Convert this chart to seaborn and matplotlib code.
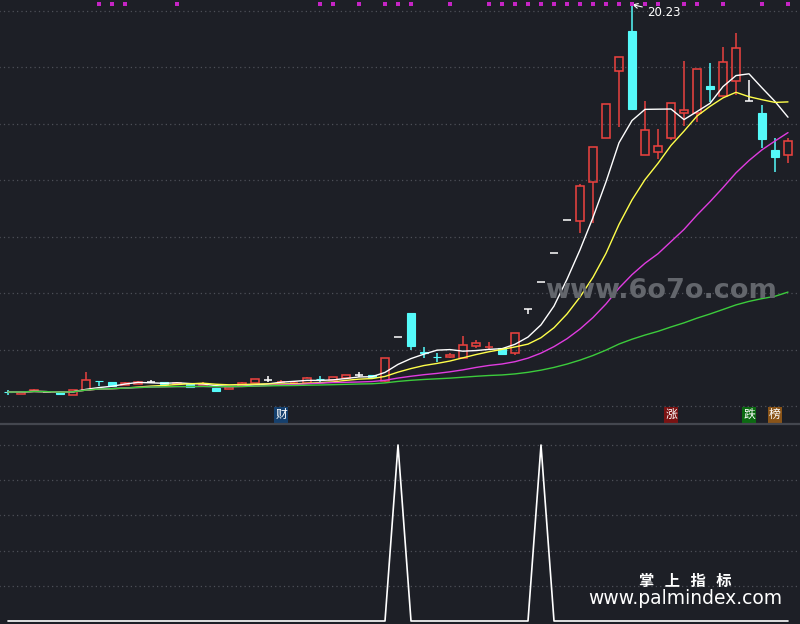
import numpy as np
import pandas as pd
import matplotlib
matplotlib.use("Agg")
import matplotlib.pyplot as plt
import seaborn as sns

# ---------------- data ----------------
opens = [6.52, 6.44, 6.55, 6.50, 6.50, 6.41, 6.58, 6.90, 6.87, 6.77,
         6.80, 6.87, 6.87, 6.80, 6.78, 6.77, 6.66, 6.62, 6.74, 6.83,
         6.94, 6.85, 6.82, 6.83, 6.98, 6.94, 7.01, 7.12, 7.11, 6.90,
         8.46, 9.31, 7.93, 7.76, 7.75, 7.72, 8.14, 8.09, 8.07, 7.89,
         9.46, 10.41, 11.45, 12.60, 12.57, 13.95, 15.50, 17.88, 19.29, 14.90,
         15.01, 15.50, 16.39, 16.39, 17.35, 16.99, 17.52, 16.81, 16.39, 15.08,
         14.90]
highs = [6.58, 6.52, 6.62, 6.50, 6.50, 6.58, 7.22, 6.90, 6.87, 6.86,
         6.89, 6.93, 6.88, 6.85, 6.79, 6.85, 6.66, 6.70, 6.85, 6.99,
         7.08, 6.92, 6.86, 7.04, 7.08, 7.06, 7.13, 7.22, 7.12, 7.72,
         8.46, 9.31, 8.10, 7.89, 7.89, 8.50, 8.35, 8.28, 8.07, 8.60,
         9.46, 10.41, 11.45, 12.60, 13.86, 15.20, 16.71, 18.38, 20.23, 16.81,
         15.82, 16.74, 18.23, 17.95, 18.16, 18.73, 19.22, 17.56, 16.67, 15.50,
         15.50]
lows = [6.41, 6.44, 6.55, 6.50, 6.42, 6.41, 6.58, 6.73, 6.73, 6.76,
        6.80, 6.84, 6.79, 6.80, 6.67, 6.77, 6.51, 6.62, 6.74, 6.83,
        6.87, 6.83, 6.82, 6.83, 6.87, 6.94, 7.01, 7.04, 7.04, 6.87,
        8.46, 8.00, 7.72, 7.58, 7.72, 7.70, 8.07, 8.00, 7.86, 7.82,
        9.27, 10.41, 11.45, 12.60, 12.14, 12.50, 15.50, 15.89, 16.53, 14.90,
        14.76, 15.43, 15.93, 16.07, 16.78, 16.99, 17.03, 16.81, 15.15, 14.30,
        14.62]
closes = [6.51, 6.52, 6.57, 6.50, 6.44, 6.58, 6.94, 6.89, 6.73, 6.83,
          6.87, 6.87, 6.80, 6.83, 6.69, 6.80, 6.56, 6.69, 6.83, 6.97,
          6.94, 6.87, 6.84, 7.00, 6.96, 7.04, 7.11, 7.12, 7.04, 7.72,
          8.46, 8.14, 7.91, 7.74, 7.82, 8.18, 8.25, 8.12, 7.86, 8.60,
          9.46, 10.41, 11.45, 12.60, 13.81, 15.19, 16.71, 18.37, 16.53, 15.79,
          15.22, 16.74, 16.50, 17.95, 17.24, 18.19, 18.69, 16.81, 15.47, 14.83,
          15.40]
signal_days = [7, 8, 9, 13, 24, 25, 27, 29, 30, 31, 34, 37, 38, 39, 40, 41, 42,
               43, 44, 45, 46, 47, 48, 49, 50, 52, 53, 55, 58, 60]
cross_days = [30, 41]
ma_periods = [5, 10, 20, 60]
price_grid = [6, 8, 10, 12, 14, 16, 18, 20]
sub_grid = [0.2, 0.4, 0.6, 0.8, 1.0]
tag_days = [21, 51, 57, 59]
tag_texts = ["财", "涨", "跌", "榜"]
peak_day = 48
peak_label = "20.23"

# ---------------- style ----------------
BG = "#1d1f26"
RED = "#e8423f"
CYAN = "#55fafa"
GRID = "#4d5058"
ma_colors = ["#ffffff", "#ffff4a", "#e03ce0", "#3ccc3c"]
tag_colors = ["#15406e", "#7a1212", "#0c6a12", "#8a5418"]

sns.set_theme(style="dark", rc={"axes.facecolor": BG, "figure.facecolor": BG})
plt.rcParams["font.family"] = ["DejaVu Sans", "Noto Sans CJK SC"]

fig = plt.figure(figsize=(8, 6.24), dpi=100, facecolor=BG)
ax = fig.add_axes([0, 200 / 624, 1, 424 / 624])
ax2 = fig.add_axes([0, 0, 1, 200 / 624])
for a in (ax, ax2):
    a.set_facecolor(BG)
    for s in a.spines.values():
        s.set_visible(False)
    a.set_xticks([])
    a.set_yticks([])

df = pd.DataFrame({"day": np.arange(len(closes)), "open": opens, "high": highs,
                   "low": lows, "close": closes})
W = 0.69

# grid
ax.hlines(price_grid, -1, 62, colors=GRID, linestyles=(0, (1, 2.5)), lw=0.9, zorder=0)

# watermark
fig.text(661 / 800, 1 - 291 / 624, "www.6o7o.com", color="#63666c", fontsize=19.5,
         fontweight="bold", ha="center", va="center", zorder=1)

# candles
for r in df.itertuples():
    o, h, l, c, x = r.open, r.high, r.low, r.close, r.day
    top, bot = max(o, c), min(o, c)
    if c > o:
        col = RED
        ax.bar(x, c - o, bottom=o, width=W, facecolor="none", edgecolor=col, lw=1.15, zorder=3)
    elif c < o:
        col = CYAN
        ax.bar(x, o - c, bottom=c, width=W, facecolor=col, edgecolor=col, lw=0.8, zorder=3)
    else:
        col = "#ffffff"
        ax.hlines(o, x - W / 2, x + W / 2, colors=col, lw=1.1, zorder=3)
    if h > top:
        ax.vlines(x, top, h, colors=col, lw=1.1, zorder=3)
    if l < bot:
        ax.vlines(x, l, bot, colors=col, lw=1.1, zorder=3)

# moving averages
for p, col in zip(ma_periods, ma_colors):
    df[f"ma{p}"] = df["close"].rolling(p, min_periods=1).mean()
    sns.lineplot(data=df, x="day", y=f"ma{p}", color=col, lw=1.0, ax=ax, zorder=4)

# signal squares on top
sns.scatterplot(x=signal_days, y=[0.9915] * len(signal_days), marker="s", s=7,
                color="#c524c5", linewidth=0, ax=ax, transform=ax.get_xaxis_transform(),
                zorder=5)

# peak annotation
ax.annotate(peak_label, xy=(peak_day, highs[peak_day]), xytext=(peak_day + 1.15, 19.96),
            color="white", fontsize=8.5, ha="left", va="center",
            arrowprops=dict(arrowstyle="->", color="white", lw=0.8, shrinkA=1, shrinkB=0))

# tags
for d, t, bc in zip(tag_days, tag_texts, tag_colors):
    ax.text(d, 0.022, t, transform=ax.get_xaxis_transform(), color="white", fontsize=8.5,
            family=["Noto Sans CJK SC"], ha="center", va="center",
            bbox=dict(boxstyle="square,pad=0.12", fc=bc, ec="none"), zorder=6)

ax.set_xlim(-8 / 13, 792 / 13)
ax.set_ylim(20.389 - 424 / 28.25, 20.389)
ax.set_xlabel("")
ax.set_ylabel("")

# ---------------- lower panel ----------------
sig = pd.DataFrame({"day": np.arange(len(closes)), "v": 0.0})
sig.loc[sig["day"].isin(cross_days), "v"] = 1.0
ax2.hlines(sub_grid, -1, 62, colors=GRID, linestyles=(0, (1, 2.5)), lw=0.9, zorder=0)
sns.lineplot(data=sig, x="day", y="v", color="white", lw=1.2, ax=ax2, zorder=3)
ax2.set_xlim(-8 / 13, 792 / 13)
ax2.set_ylim(-3 / 176, 1 + 21 / 176)
ax2.set_xlabel("")
ax2.set_ylabel("")
ax2.spines["top"].set_visible(True)
ax2.spines["top"].set_color("#44474f")
ax2.spines["top"].set_linewidth(1.6)

fig.text(685 / 800, 1 - 581 / 624, "掌   上   指   标", color="white", fontsize=11,
         fontweight="bold", family=["Noto Sans CJK SC"], ha="center", va="center", zorder=6)
fig.text(685 / 800, 1 - 599 / 624, "www.palmindex.com", color="white", fontsize=13.5,
         ha="center", va="center", zorder=6)

fig.savefig("out.png", dpi=100, facecolor=BG)
